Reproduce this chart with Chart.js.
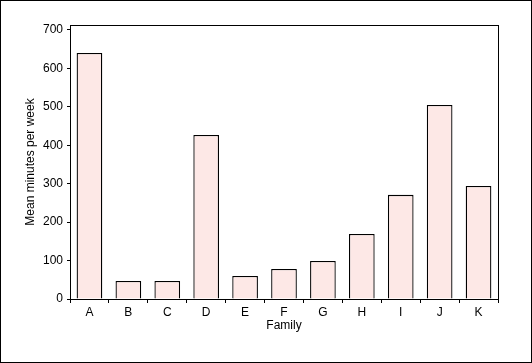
<!DOCTYPE html>
<html><head><meta charset="utf-8">
<script src="https://cdn.jsdelivr.net/npm/chart.js@4/dist/chart.umd.min.js"></script>
<style>html,body{margin:0;padding:0;background:#fff}canvas{display:block}</style>
</head><body>
<canvas id="c" width="532" height="363"></canvas>
<script>
const categories = ['A','B','C','D','E','F','G','H','I','J','K'];
const meanMinutes = [640, 47, 47, 427, 60, 78, 99, 169, 271, 505, 294];
const yTicks = [0, 100, 200, 300, 400, 500, 600, 700];

const frame = {
  id: 'frame',
  afterDraw(chart) {
    const ctx = chart.ctx, a = chart.chartArea;
    ctx.save();
    ctx.strokeStyle = '#000';
    ctx.lineWidth = 1;
    ctx.strokeRect(Math.round(a.left) + 0.5, Math.round(a.top) + 0.5, Math.round(a.right - a.left), Math.round(a.bottom - a.top));
    ctx.strokeRect(0.5, 0.5, chart.width - 1, chart.height - 1);
    ctx.restore();
  }
};

const font = { family: 'Liberation Sans, Arial, sans-serif', size: 12 };
new Chart(document.getElementById('c'), {
  type: 'bar',
  data: {
    labels: categories,
    datasets: [{
      data: meanMinutes,
      backgroundColor: '#fde8e6',
      borderColor: '#000',
      borderWidth: 1.3,
      borderSkipped: 'start',
      barPercentage: 0.66,
      categoryPercentage: 1
    }]
  },
  options: {
    responsive: false,
    animation: false,
    devicePixelRatio: 1,
    layout: { padding: { left: 23, right: 34, top: 25, bottom: 24 } },
    plugins: { legend: { display: false }, tooltip: { enabled: false } },
    scales: {
      x: {
        grid: { display: true, drawOnChartArea: false, tickLength: 4, color: '#000' },
        border: { display: true, color: '#000' },
        ticks: { color: '#000', font, padding: 2, maxRotation: 0 },
        title: { display: true, text: 'Family', color: '#000', font, padding: { top: 0, bottom: 6 } },
        afterFit(s) { s.height = 40; }
      },
      y: {
        min: 0, max: 713,
        afterBuildTicks(s) { s.ticks = yTicks.map(v => ({ value: v })); },
        grid: { display: true, drawOnChartArea: false, tickLength: 3, color: '#000' },
        border: { display: true, color: '#000' },
        ticks: { color: '#000', font, padding: 4 },
        title: { display: true, text: 'Mean minutes per week', color: '#000', font, padding: { top: 0, bottom: 0 } },
        afterFit(s) { s.width = 47; }
      }
    }
  },
  plugins: [frame]
});
</script>
</body></html>
